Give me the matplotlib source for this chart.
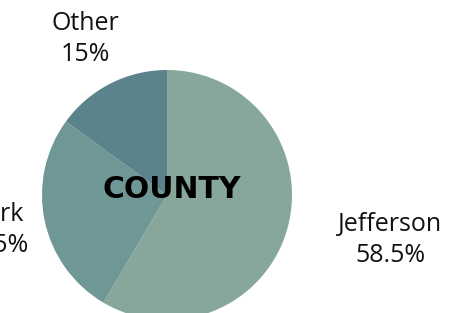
import matplotlib.pyplot as plt

# county shares (%)
counties = ["Jefferson", "Clark", "Other"]
shares = [58.5, 26.5, 15]
colors = ["#87a79b", "#6f9795", "#5b838b"]

# label text spots (pixels, y measured up from bottom)
label_pos = [(390, 73), (-6, 83), (85, 274)]

fig = plt.figure(figsize=(4.61, 3.13), dpi=100)
ax = fig.add_axes([0, 0, 1, 1])

ax.pie(shares, colors=colors, startangle=90, counterclock=False,
       center=(167, 118), radius=125, frame=True)
ax.set_xlim(0, 461)
ax.set_ylim(0, 313)
ax.set_aspect("equal")
ax.axis("off")

for name, val, (x, y) in zip(counties, shares, label_pos):
    ax.text(x, y, f"{name}\n{val:g}%", ha="center", va="center",
            fontsize=18, family="Open Sans", linespacing=1.3, color="#111111")

ax.text(172, 123, "COUNTY", ha="center", va="center", fontsize=21.5,
        fontweight="bold", family="DejaVu Sans", color="#000000")

fig.savefig("out.png", dpi=100)
